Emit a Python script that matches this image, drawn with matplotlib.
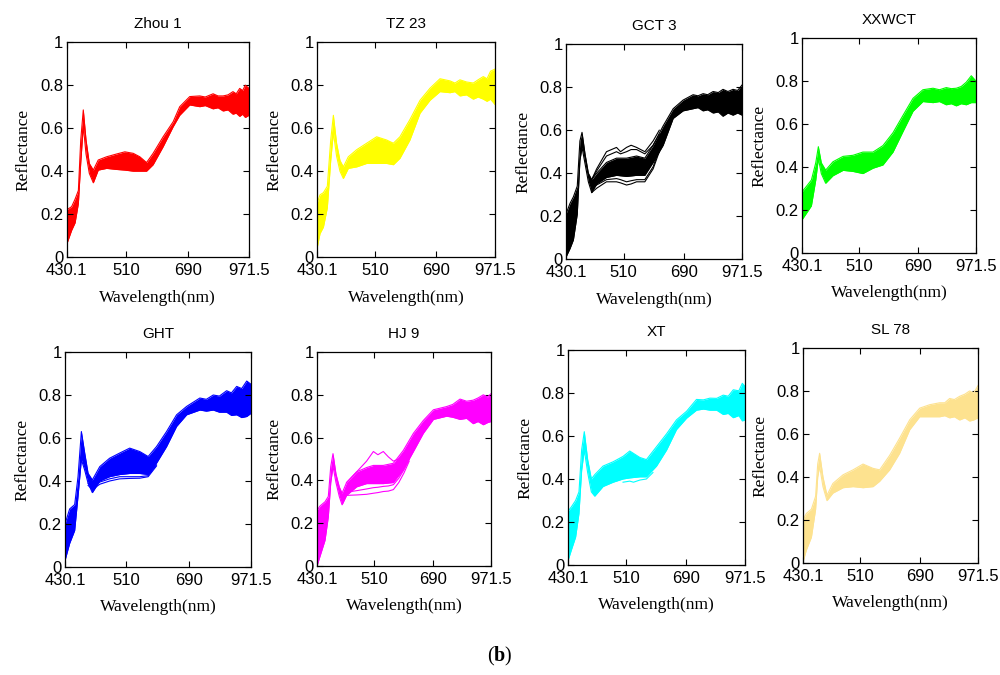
import matplotlib.pyplot as plt

plt.rcParams['font.family'] = 'Liberation Sans'
plt.rcParams['mathtext.fontset'] = 'custom'
plt.rcParams['mathtext.rm'] = 'Liberation Serif'
plt.rcParams['mathtext.bf'] = 'Liberation Serif:bold'

# band position (% of spectral range) and envelope of the reflectance curves per cultivar
zhou1_x = [0, 2.7, 4.6, 6.4, 7.7, 9.1, 10.6, 12.4, 14.6, 17.3, 21.9, 27.4, 31.9, 36.5, 40.1, 43.8, 47.4,
           52.9, 58.4, 62, 67.5, 73, 76, 80.3, 83, 85.8, 88.5, 91.2, 93, 94.9, 96.5, 98, 100]
zhou1_lo = [0.06, 0.125, 0.16, 0.25, 0.44, 0.61, 0.48, 0.39, 0.346, 0.405, 0.413, 0.408, 0.405, 0.40, 0.40, 0.40, 0.43,
            0.514, 0.607, 0.66, 0.708, 0.70, 0.705, 0.69, 0.695, 0.68, 0.685, 0.665, 0.67, 0.655, 0.665, 0.65, 0.66]
zhou1_hi = [0.22, 0.235, 0.27, 0.31, 0.545, 0.685, 0.545, 0.436, 0.405, 0.452, 0.467, 0.48, 0.49, 0.483, 0.467, 0.44, 0.483,
            0.56, 0.63, 0.70, 0.747, 0.75, 0.745, 0.76, 0.75, 0.75, 0.755, 0.77, 0.76, 0.785, 0.775, 0.80, 0.785]

tz23_x = [0, 1.7, 3.6, 5.8, 7.7, 9.2, 11, 12.9, 14.8, 17.6, 22.3, 27.9, 33.5, 39.1, 42.9, 46.6, 52.2,
          57.9, 63.5, 69.1, 74.7, 77.5, 80.3, 84, 87.8, 90.5, 93.4, 95.5, 97.5, 100]
tz23_lo = [0.04, 0.11, 0.14, 0.23, 0.45, 0.58, 0.47, 0.40, 0.366, 0.413, 0.42, 0.436, 0.436, 0.436, 0.43, 0.46, 0.545,
           0.67, 0.73, 0.77, 0.765, 0.77, 0.75, 0.755, 0.735, 0.745, 0.735, 0.725, 0.735, 0.71]
tz23_hi = [0.25, 0.29, 0.30, 0.33, 0.545, 0.66, 0.53, 0.45, 0.42, 0.467, 0.50, 0.53, 0.56, 0.545, 0.53, 0.56, 0.64,
           0.73, 0.786, 0.83, 0.82, 0.81, 0.825, 0.815, 0.81, 0.825, 0.84, 0.83, 0.865, 0.875]

gct3_x = [0, 2.3, 4.2, 6.4, 7.9, 9.1, 10.8, 12.7, 14.6, 17.4, 23, 28.7, 34.4, 40.1, 44.8, 49.5, 55.2,
          60.9, 66.5, 72.2, 75, 77.9, 80.5, 83.6, 86.5, 89.2, 92, 94.9, 97.5, 100]
gct3_lo = [0.01, 0.05, 0.09, 0.21, 0.46, 0.52, 0.445, 0.36, 0.31, 0.35, 0.38, 0.39, 0.385, 0.39, 0.39, 0.45, 0.53,
           0.655, 0.69, 0.70, 0.705, 0.69, 0.695, 0.68, 0.685, 0.665, 0.68, 0.67, 0.68, 0.67]
gct3_hi = [0.21, 0.26, 0.29, 0.34, 0.55, 0.59, 0.49, 0.40, 0.37, 0.40, 0.45, 0.47, 0.47, 0.48, 0.47, 0.53, 0.62,
           0.70, 0.74, 0.765, 0.76, 0.77, 0.765, 0.78, 0.775, 0.79, 0.78, 0.79, 0.785, 0.81]
# GCT 3 samples spreading above and below the core bundle
gct3_out_x = [14.6, 17.4, 23, 28.7, 31, 34.4, 37, 40.1, 44.8, 49.5, 53]
gct3_out = [[0.37, 0.42, 0.50, 0.52, 0.50, 0.52, 0.53, 0.52, 0.50, 0.55, 0.60],
            [0.37, 0.41, 0.48, 0.50, 0.49, 0.50, 0.51, 0.51, 0.49, 0.53, 0.58],
            [0.31, 0.33, 0.36, 0.36, 0.355, 0.345, 0.35, 0.36, 0.36, 0.42, 0.50],
            [0.32, 0.345, 0.37, 0.375, 0.37, 0.36, 0.365, 0.37, 0.37, 0.43, 0.51]]

xxwct_x = [0, 2.5, 5.4, 7.9, 9.4, 11.1, 13.6, 17.8, 23.6, 29.3, 35, 40.8, 46.5, 52.3, 58, 63.8, 69.5,
           75.3, 79, 82.9, 85.8, 88.7, 91.5, 94.4, 97.3, 100]
xxwct_lo = [0.155, 0.185, 0.22, 0.34, 0.44, 0.37, 0.325, 0.36, 0.385, 0.38, 0.37, 0.395, 0.41, 0.47, 0.565, 0.66, 0.705,
            0.70, 0.705, 0.69, 0.695, 0.685, 0.695, 0.69, 0.70, 0.70]
xxwct_hi = [0.285, 0.31, 0.34, 0.42, 0.495, 0.42, 0.386, 0.425, 0.45, 0.455, 0.47, 0.47, 0.50, 0.56, 0.64, 0.72, 0.76,
            0.767, 0.76, 0.77, 0.765, 0.767, 0.775, 0.795, 0.825, 0.80]

ght_x = [0, 2.5, 5.2, 7, 8.8, 10.6, 12.4, 14.7, 18.7, 24, 29.4, 34.8, 40.2, 44.7, 49.2, 54.6, 60,
         65.4, 72.5, 76, 79.7, 83, 86.9, 89.5, 92.3, 95, 97.7, 100]
ght_lo = [0.03, 0.11, 0.17, 0.33, 0.50, 0.45, 0.39, 0.346, 0.40, 0.42, 0.43, 0.435, 0.435, 0.43, 0.483, 0.56, 0.654,
          0.708, 0.73, 0.725, 0.73, 0.72, 0.72, 0.705, 0.708, 0.695, 0.70, 0.715]
ght_hi = [0.20, 0.27, 0.29, 0.42, 0.63, 0.53, 0.436, 0.405, 0.467, 0.506, 0.53, 0.553, 0.537, 0.514, 0.56, 0.63, 0.708,
          0.747, 0.786, 0.78, 0.80, 0.795, 0.82, 0.81, 0.84, 0.83, 0.865, 0.85]
# GHT samples below the main bundle
ght_out_x = [12.4, 14.7, 18.7, 24, 29.4, 34.8, 40.2, 44.7, 49.2]
ght_out = [[0.38, 0.36, 0.385, 0.40, 0.41, 0.412, 0.413, 0.42, 0.47],
           [0.39, 0.37, 0.395, 0.41, 0.42, 0.42, 0.42, 0.425, 0.475]]

hj9_x = [0, 1.7, 4.6, 6.5, 7.9, 9.2, 10.9, 12.8, 14.4, 17, 22.8, 28.5, 32.4, 38.1, 43.9, 49.6, 55.4,
         61.1, 66.9, 74.5, 78, 82.2, 86, 89.8, 92.5, 95.6, 98, 100]
hj9_lo = [0.0, 0.045, 0.12, 0.23, 0.39, 0.465, 0.39, 0.325, 0.286, 0.33, 0.37, 0.385, 0.385, 0.385, 0.39, 0.45, 0.535,
          0.62, 0.685, 0.70, 0.695, 0.685, 0.69, 0.665, 0.675, 0.66, 0.67, 0.675]
hj9_hi = [0.26, 0.28, 0.30, 0.325, 0.465, 0.525, 0.43, 0.37, 0.34, 0.39, 0.44, 0.46, 0.47, 0.47, 0.48, 0.54, 0.62,
          0.68, 0.73, 0.745, 0.755, 0.78, 0.77, 0.775, 0.785, 0.80, 0.79, 0.805]
# HJ 9 samples lying outside the main bundle
hj9_out_x = [17, 22.8, 28.5, 32.4, 35, 38.1, 41, 43.9, 47, 50, 53]
hj9_out = [[0.39, 0.44, 0.49, 0.535, 0.52, 0.535, 0.51, 0.49, 0.50, 0.52, 0.56],
           [0.33, 0.332, 0.335, 0.34, 0.343, 0.348, 0.35, 0.357, 0.39, 0.435, 0.49],
           [0.345, 0.352, 0.36, 0.366, 0.368, 0.372, 0.374, 0.38, 0.41, 0.45, 0.50]]

xt_x = [0, 1.9, 4.3, 6.2, 7.7, 9.2, 11.1, 13.2, 15.1, 19.8, 25.5, 31.1, 34.9, 40.6, 44.3, 50, 55.7,
        61.3, 67, 72.6, 76.5, 80.2, 84, 87.7, 90.5, 93.4, 96.5, 98.5, 100]
xt_lo = [0.02, 0.07, 0.13, 0.24, 0.44, 0.535, 0.43, 0.34, 0.32, 0.365, 0.385, 0.40, 0.405, 0.41, 0.41, 0.46, 0.535,
         0.63, 0.683, 0.72, 0.725, 0.72, 0.72, 0.70, 0.705, 0.685, 0.695, 0.67, 0.675]
xt_hi = [0.25, 0.27, 0.30, 0.34, 0.535, 0.62, 0.49, 0.40, 0.42, 0.46, 0.48, 0.505, 0.53, 0.50, 0.49, 0.55, 0.61,
         0.675, 0.715, 0.77, 0.768, 0.776, 0.775, 0.79, 0.785, 0.815, 0.81, 0.845, 0.83]
# XT samples below the main bundle
xt_out_x = [31.1, 34.9, 37, 40.6, 44.3, 48]
xt_out = [[0.385, 0.39, 0.385, 0.395, 0.40, 0.43]]

sl78_x = [0, 1.9, 4.8, 7.2, 8.4, 9.5, 11.4, 13.7, 17.1, 22.9, 28.6, 34.3, 40, 43.8, 49.5, 55.2, 61,
          66.7, 72.4, 78.1, 81, 83.8, 86.5, 89.5, 92.5, 95.2, 97.5, 100]
sl78_lo = [0.005, 0.06, 0.12, 0.25, 0.40, 0.45, 0.355, 0.29, 0.325, 0.35, 0.355, 0.35, 0.355, 0.38, 0.433, 0.51, 0.62,
           0.68, 0.68, 0.68, 0.685, 0.675, 0.68, 0.665, 0.675, 0.66, 0.665, 0.675]
sl78_hi = [0.20, 0.23, 0.25, 0.31, 0.46, 0.51, 0.40, 0.315, 0.37, 0.41, 0.433, 0.46, 0.44, 0.433, 0.50, 0.58, 0.666,
           0.72, 0.736, 0.745, 0.745, 0.765, 0.76, 0.775, 0.785, 0.80, 0.79, 0.825]

names = ['Zhou 1', 'TZ 23', 'GCT 3', 'XXWCT', 'GHT', 'HJ 9', 'XT', 'SL 78']
colors = ['#ff0000', '#ffff00', '#000000', '#00ff00', '#0000ff', '#ff00ff', '#00ffff', '#fde28f']
bands = [(zhou1_x, zhou1_lo, zhou1_hi), (tz23_x, tz23_lo, tz23_hi), (gct3_x, gct3_lo, gct3_hi),
         (xxwct_x, xxwct_lo, xxwct_hi), (ght_x, ght_lo, ght_hi), (hj9_x, hj9_lo, hj9_hi),
         (xt_x, xt_lo, xt_hi), (sl78_x, sl78_lo, sl78_hi)]
extras = {'GCT 3': (gct3_out_x, gct3_out), 'GHT': (ght_out_x, ght_out),
          'HJ 9': (hj9_out_x, hj9_out), 'XT': (xt_out_x, xt_out)}

tick_pos = [0, 32.7, 66.8, 100]
tick_labels = ['430.1', '510', '690', '971.5']

# axes boxes in figure fraction
boxes = [[0.0667, 0.619, 0.1823, 0.3185], [0.317, 0.619, 0.178, 0.3185],
         [0.566, 0.616, 0.176, 0.3185], [0.802, 0.625, 0.174, 0.3185],
         [0.065, 0.160, 0.186, 0.3185], [0.317, 0.1615, 0.174, 0.317],
         [0.568, 0.163, 0.177, 0.3185], [0.803, 0.166, 0.175, 0.3185]]

fig = plt.figure(figsize=(10, 6.75), dpi=100)

for i, (name, col, (x, lo, hi)) in enumerate(zip(names, colors, bands)):
    ax = fig.add_axes(boxes[i])
    ax.fill_between(x, lo, hi, color=col, lw=0)
    ax.plot(x, lo, color=col, lw=0.8)
    ax.plot(x, hi, color=col, lw=0.8)
    if name in extras:
        ox, curves = extras[name]
        for ys in curves:
            ax.plot(ox, ys, color=col, lw=0.8)

    ax.set_xlim(0, 100)
    ax.set_ylim(0, 1)
    ax.set_xticks(tick_pos)
    ax.set_xticklabels(tick_labels)
    ax.set_yticks([0, 0.2, 0.4, 0.6, 0.8, 1.0])
    ax.set_yticklabels(['0', '0.2', '0.4', '0.6', '0.8', '1'])
    ax.tick_params(direction='in', top=True, right=True, length=4, width=0.8, labelsize=12)
    ax.tick_params(axis='x', pad=4.5)
    ax.tick_params(axis='y', pad=2.5)
    for sp in ax.spines.values():
        sp.set_linewidth(0.9)
    ax.set_title(name, fontsize=11, pad=10)
    ax.set_xlabel('Wavelength(nm)', family='Liberation Serif', fontsize=12.5, labelpad=8)
    ax.set_ylabel('Reflectance', family='Liberation Serif', fontsize=12.5, labelpad=6)

fig.text(0.5, 0.028, r'($\mathbf{b}$)', ha='center', va='center',
         family='Liberation Serif', fontsize=14.5)

fig.savefig('out.png', dpi=100)
